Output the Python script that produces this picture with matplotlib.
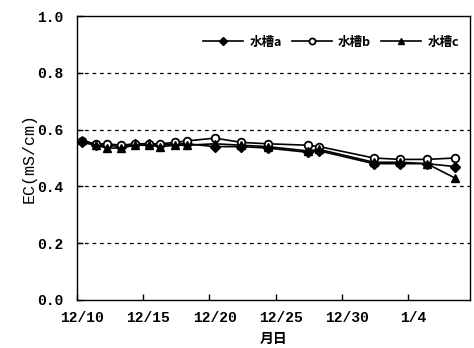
import matplotlib
matplotlib.use("Agg")
import matplotlib.pyplot as plt
import matplotlib.transforms as mtransforms

# days since 12/10
days = [0.4, 1.4, 2.3, 3.3, 4.4, 5.4, 6.3, 7.4, 8.3, 10.4, 12.4, 14.4, 17.4, 18.3, 22.4, 24.4, 26.4, 28.5]
tank_a = [0.555, 0.545, 0.545, 0.540, 0.550, 0.550, 0.545, 0.550, 0.550, 0.540, 0.540, 0.535, 0.520, 0.525, 0.480, 0.480, 0.480, 0.470]
tank_b = [0.560, 0.550, 0.550, 0.545, 0.550, 0.550, 0.550, 0.555, 0.560, 0.570, 0.555, 0.550, 0.545, 0.540, 0.500, 0.495, 0.495, 0.500]
tank_c = [0.565, 0.545, 0.535, 0.535, 0.545, 0.545, 0.540, 0.545, 0.545, 0.550, 0.545, 0.540, 0.525, 0.530, 0.485, 0.485, 0.480, 0.430]
series_names = ["水槽a", "水槽b", "水槽c"]
xtick_pos = [0, 5, 10, 15, 20, 25]
xtick_labels = ["12/10", "12/15", "12/20", "12/25", "12/30", "1/4"]
yticks = [0.0, 0.2, 0.4, 0.6, 0.8, 1.0]

plt.rcParams['font.family'] = ['Liberation Mono', 'Noto Sans CJK SC']

fig = plt.figure(figsize=(4.74, 3.48), dpi=100)
ax = fig.add_axes([0.1624, 0.138, 0.8292, 0.816])

ax.plot(days, tank_a, color='black', lw=1.2, marker='D', ms=5, mfc='black', label=series_names[0])
ax.plot(days, tank_b, color='black', lw=1.2, marker='o', ms=5.5, mfc='white', mew=1.3, label=series_names[1])
ax.plot(days, tank_c, color='black', lw=1.2, marker='^', ms=6, mfc='black', label=series_names[2])

ax.set_xlim(0, 29.66)
ax.set_ylim(0, 1.0)
ax.set_xticks(xtick_pos)
ax.set_xticklabels(xtick_labels, fontsize=10.5, fontweight='bold')
ax.set_yticks(yticks)
ax.set_yticklabels([f"{v:.1f}" for v in yticks], fontsize=10.5, fontweight='bold')
ax.tick_params(direction='in', length=4, width=1)
ax.tick_params(axis='x', pad=8)
ax.tick_params(axis='y', pad=10)

shift = mtransforms.ScaledTranslation(5 / 100, 0, fig.dpi_scale_trans)
for lbl in ax.get_xticklabels():
    lbl.set_transform(lbl.get_transform() + shift)

for y in [0.2, 0.4, 0.6, 0.8]:
    ax.axhline(y, color='black', lw=0.9, ls=(0, (3, 3)), zorder=0)

for s in ax.spines.values():
    s.set_linewidth(1.0)

ax.set_ylabel("EC(mS/cm)", fontsize=12, family=['Liberation Mono'], labelpad=0)
ax.set_xlabel("月日", fontsize=10, fontweight='bold', family=['Noto Sans CJK SC'], labelpad=5)

leg = ax.legend(loc='upper right', ncol=3, frameon=False, handlelength=3.2,
                columnspacing=0.8, handletextpad=0.5, bbox_to_anchor=(1.0, 0.97),
                markerscale=0.8,
                prop={'family': ['Noto Sans CJK SC'], 'weight': 'bold', 'size': 9})

fig.savefig("out.png", dpi=100)
